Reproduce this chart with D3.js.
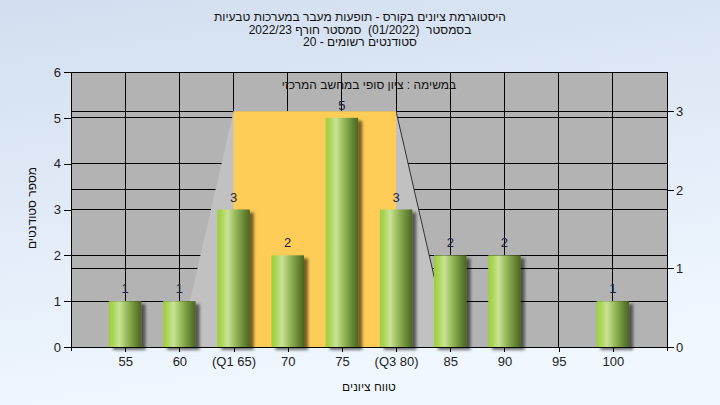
<!DOCTYPE html>
<html><head><meta charset="utf-8">
<script src="https://cdn.jsdelivr.net/npm/d3@7/dist/d3.min.js"></script>
<style>html,body{margin:0;padding:0;overflow:hidden}svg{display:block}text{font-family:"Liberation Sans","DejaVu Sans",Arial,sans-serif}</style>
</head><body>
<svg id="c" width="720" height="405"></svg>
<script>
const titleLines = ["היסטוגרמת ציונים בקורס - תופעות מעבר במערכות טבעיות",
  "בסמסטר  (01/2022)  סמסטר חורף 2022/23",
  "סטודנטים רשומים - 20"];
const subTitle = "במשימה : ציון סופי במחשב המרכזי";
const xTitle = "טווח ציונים";
const yTitle = "מספר סטודנטים";
const categories = [55,60,65,70,75,80,85,90,95,100];
const tickLabels = ["55","60","(Q1 65)","70","75","(Q3 80)","85","90","95","100"];
const counts = [1,1,3,2,5,3,2,2,0,1];
const leftTicks = [0,1,2,3,4,5,6];
const rightTicks = [0,1,2,3];
const boxQ = [65,80];
const boxWhisker = [60,85];
const boxTop = [3];

const svg = d3.select("#c");
const defs = svg.append("defs");
const bg = defs.append("linearGradient").attr("id","bg").attr("x1",0).attr("y1",0).attr("x2",0.25).attr("y2",1);
bg.append("stop").attr("offset","0%").attr("stop-color","#d2deef");
bg.append("stop").attr("offset","100%").attr("stop-color","#f0f7ff");
const bar = defs.append("linearGradient").attr("id","bar").attr("x1",0).attr("y1",0).attr("x2",1).attr("y2",0);
[["0%","#9ccd3b"],["12%","#aad455"],["32%","#c9e396"],["55%","#98ba5c"],["80%","#6a8a36"],["100%","#4a6520"]]
 .forEach(s=>bar.append("stop").attr("offset",s[0]).attr("stop-color",s[1]));
const f = defs.append("filter").attr("id","sh").attr("x","-20%").attr("y","-20%").attr("width","160%").attr("height","140%");
f.append("feDropShadow").attr("dx",4).attr("dy",3).attr("stdDeviation",1.8).attr("flood-color","#000").attr("flood-opacity",0.55);

svg.append("rect").attr("width",720).attr("height",405).attr("fill","url(#bg)");

const L=71,R=667,T=72,B=347;
const x = d3.scaleLinear().domain([50,105]).range([L,R]);
const y = d3.scaleLinear().domain([0,6]).range([B,T]);
const y2 = d3.scaleLinear().domain([0,3.5]).range([B,T]);

svg.append("rect").attr("x",L).attr("y",T).attr("width",R-L).attr("height",B-T).attr("fill","#b3b3b3");

const g = svg.append("g");
// grid
g.selectAll(".hg").data(leftTicks.filter(d=>d>0&&d<6)).enter().append("line")
 .attr("x1",L).attr("x2",R).attr("y1",d=>y(d)).attr("y2",d=>y(d)).attr("stroke","#000").attr("stroke-width",1).attr("shape-rendering","crispEdges");
g.selectAll(".hg2").data(rightTicks.filter(d=>d>0)).enter().append("line")
 .attr("x1",L).attr("x2",R).attr("y1",d=>y2(d)).attr("y2",d=>y2(d)).attr("stroke","#000").attr("stroke-width",1).attr("shape-rendering","crispEdges");
g.selectAll(".vg").data(categories).enter().append("line")
 .attr("x1",d=>x(d)).attr("x2",d=>x(d)).attr("y1",T).attr("y2",B).attr("stroke","#000").attr("stroke-width",1).attr("shape-rendering","crispEdges");

// box plot trapezoid
const trap = [[x(boxQ[0]),y2(boxTop[0])],[x(boxQ[1]),y2(boxTop[0])],[x(boxWhisker[1]),y2(0)],[x(boxWhisker[0]),y2(0)]];
svg.append("polygon").attr("points",trap.map(p=>p.join(",")).join(" ")).attr("fill","#c1c1c1");
svg.append("line").attr("x1",x(boxQ[1])).attr("y1",y2(boxTop[0])).attr("x2",x(boxWhisker[1])).attr("y2",y2(0)).attr("stroke","#333").attr("stroke-width",1);
svg.append("rect").attr("x",x(boxQ[0])).attr("y",y2(boxTop[0])).attr("width",x(boxQ[1])-x(boxQ[0])).attr("height",y2(0)-y2(boxTop[0])).attr("fill","#ffcc57");

// bars
const bw = x(3)-x(0);
const data = categories.map((c,i)=>({c, v:counts[i]})).filter(d=>d.v>0);
svg.selectAll(".bar").data(data).enter().append("rect")
 .attr("x",d=>x(d.c)-bw/2).attr("y",d=>y(d.v)).attr("width",bw).attr("height",d=>y(0)-y(d.v))
 .attr("fill","url(#bar)").attr("filter","url(#sh)");
svg.selectAll(".lbl").data(data).enter().append("text")
 .attr("x",d=>x(d.c)).attr("y",d=>y(d.v)-8).attr("text-anchor","middle").attr("font-size",13).attr("fill","#1c2040").text(d=>d.v);

// axes
const axL = d3.axisLeft(y).tickValues(leftTicks).tickFormat(d3.format("d")).tickSize(7).tickPadding(3);
const gl = svg.append("g").attr("transform",`translate(${L},0)`).call(axL);
const axR = d3.axisRight(y2).tickValues(rightTicks).tickFormat(d3.format("d")).tickSize(7).tickPadding(2);
const gr = svg.append("g").attr("transform",`translate(${R},0)`).call(axR);
const axB = d3.axisBottom(x).tickValues(categories).tickFormat((d,i)=>tickLabels[i]).tickSize(5).tickPadding(5);
const gb = svg.append("g").attr("transform",`translate(0,${B})`).call(axB);
[gl,gr,gb].forEach(a=>{
  a.selectAll("text").attr("font-size",13).attr("fill","#222").attr("font-family","Liberation Sans, DejaVu Sans, Arial, sans-serif");
  a.selectAll("line").attr("stroke","#000").attr("shape-rendering","crispEdges");
  a.select(".domain").attr("stroke","#000").attr("shape-rendering","crispEdges");
});
gl.select(".domain").attr("d",`M0,${T}V${B+4}`);
gr.select(".domain").attr("d",`M0,${T}V${B+4}`);
gb.select(".domain").attr("d",`M${L},0H${R+6}`);
// top border
svg.append("line").attr("x1",L).attr("x2",R).attr("y1",T).attr("y2",T).attr("stroke","#000").attr("shape-rendering","crispEdges");

// titles
svg.selectAll(".tt").data(titleLines).enter().append("text")
 .attr("x",360).attr("y",(d,i)=>21+i*12.5).attr("text-anchor","middle").attr("direction","rtl")
 .attr("xml:space","preserve").style("white-space","pre")
 .attr("font-size",12).attr("fill","#111").text(d=>d);
svg.append("text").attr("x",369).attr("y",89).attr("text-anchor","middle").attr("direction","rtl").attr("font-size",12).attr("fill","#111").text(subTitle);
svg.append("text").attr("x",369).attr("y",391).attr("text-anchor","middle").attr("direction","rtl").attr("font-size",12).attr("fill","#111").text(xTitle);
svg.append("text").attr("transform","translate(36,208) rotate(-90)").attr("text-anchor","middle").attr("direction","rtl").attr("font-size",12).attr("fill","#111").text(yTitle);
</script>
</body></html>
